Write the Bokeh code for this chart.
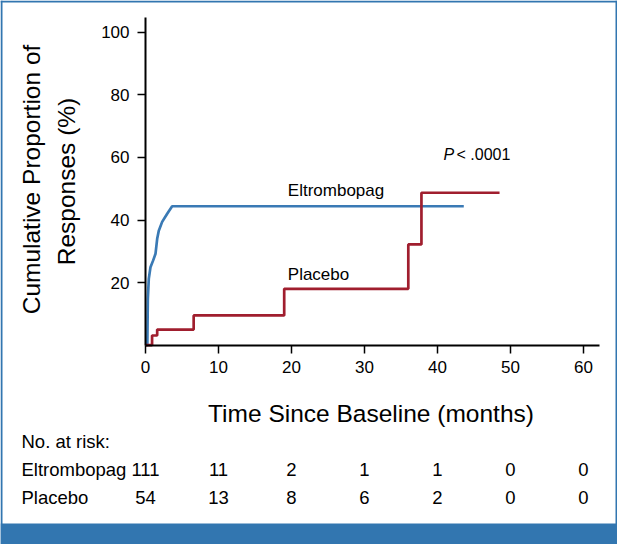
from bokeh.plotting import figure
from bokeh.models import Range1d, FixedTicker, Label, BoxAnnotation, LinearAxis
from bokeh.embed import file_html
from bokeh.resources import INLINE
import math

# ---- data ----
elt_t = [0, 0.25, 0.32, 0.45, 0.68, 1.05, 1.37, 1.6, 1.82, 2.28, 2.97, 3.65, 43.6]
elt_y = [0, 0, 14.8, 21.2, 24.9, 27.1, 29.2, 34.0, 36.6, 39.4, 42.0, 44.4, 44.4]
pla_t = [0, 0.9, 1.6, 6.6, 19.0, 36.0, 37.8, 48.5]
pla_y = [0, 3.1, 5.0, 9.5, 18.0, 32.2, 48.7, 48.7]
x_ticks = [0, 10, 20, 30, 40, 50, 60]
y_ticks = [20, 40, 60, 80, 100]
risk_elt = ["111", "11", "2", "1", "1", "0", "0"]
risk_pla = ["54", "13", "8", "6", "2", "0", "0"]

FONT = "Liberation Sans"
BLUE = "#3A7AB5"
RED = "#A01E2E"
FRAME = "#3276B0"

W, H = 617, 544
# pixel layout of the plotting area
X0, XS = 145, 7.3      # x=0 at 145 px, 7.3 px per month
Y0, YS = 344.7, 3.13   # y=0 at 344.7 px, 3.13 px per %
XMAX, YMAX = 62.2, 104.7

p = figure(width=W, height=H, output_backend="svg", toolbar_location=None,
           x_range=Range1d(-X0 / XS, (W - X0) / XS),
           y_range=Range1d((Y0 - H) / YS, Y0 / YS),
           x_axis_type=None, y_axis_type=None,
           min_border=0)
p.outline_line_color = None
p.grid.visible = False
p.background_fill_color = "white"
p.border_fill_color = "white"

xa = LinearAxis(fixed_location=0, bounds=(0, XMAX), ticker=FixedTicker(ticks=x_ticks))
ya = LinearAxis(fixed_location=0, bounds=(0, YMAX), ticker=FixedTicker(ticks=y_ticks))
for ax in (xa, ya):
    ax.axis_line_width = 2
    ax.axis_line_color = "black"
    ax.major_tick_line_width = 1.5
    ax.major_tick_line_color = "black"
    ax.major_tick_out = 8
    ax.major_tick_in = 0
    ax.minor_tick_line_color = None
    ax.major_label_text_font = FONT
    ax.major_label_text_font_size = "17px"
    ax.major_label_text_color = "black"
    ax.major_label_standoff = 8
p.add_layout(xa, "below")
p.add_layout(ya, "left")

p.line(elt_t, elt_y, line_color=BLUE, line_width=2.7)
p.step(pla_t, pla_y, mode="after", line_color=RED, line_width=2.7)

def lab(text, x, y, size, align="left", angle=0, style="normal"):
    # x, y: wanted baseline position in page pixels; shift compensates the
    # rendered offset of the text box
    shift = 0.37 * size
    if angle == 0:
        y = y - shift
    else:
        x = x - shift
    p.add_layout(Label(x=x, y=y, x_units="canvas", y_units="canvas", text=text,
                       text_font=FONT, text_font_size=f"{size}px",
                       text_align=align, text_baseline="alphabetic", angle=angle,
                       text_font_style=style, text_color="black"))

lab("Eltrombopag", 335.5, 196.7, 17, align="center")
lab("Placebo", 287.3, 280.7, 17)
lab("P", 443, 160, 16, style="italic")
lab("< .0001", 456, 160, 16)

lab("Time Since Baseline (months)", 370.5, 421.7, 24.5, align="center")
lab("Cumulative Proportion of", 40.5, 179, 24.5, align="center", angle=math.pi / 2)
lab("Responses (%)", 74.8, 181, 24.5, align="center", angle=math.pi / 2)

# number-at-risk table: columns sit under the x ticks
lab("No. at risk:", 21, 447.5, 18.5)
lab("Eltrombopag", 21, 476, 18.5)
lab("Placebo", 21, 504, 18.5)
for xv, a, b in zip(x_ticks, risk_elt, risk_pla):
    lab(a, X0 + XS * xv, 476, 18.5, align="center")
    lab(b, X0 + XS * xv, 504, 18.5, align="center")

# blue frame of the figure panel
for l, r, t, b in [(0, 2, 0, 544), (615, 617, 0, 544), (0, 617, 0, 2), (0, 617, 523, 544)]:
    p.add_layout(BoxAnnotation(left=l, right=r, top=t, bottom=b,
                               left_units="canvas", right_units="canvas",
                               top_units="canvas", bottom_units="canvas",
                               fill_color=FRAME, fill_alpha=1, line_color=None))

open("out.html", "w").write(file_html(p, INLINE))
